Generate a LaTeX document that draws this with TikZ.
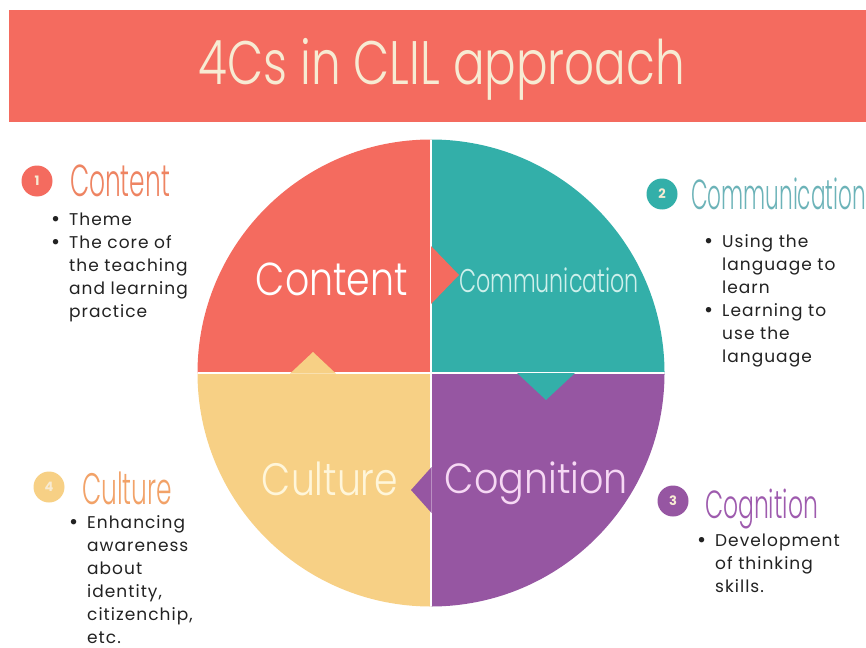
\documentclass[tikz,border=0pt]{standalone}
\usepackage{fontspec}
\usepackage{graphicx}
\setmainfont{Poppins}
\newfontfamily\thinfont{Poppins Light}
\newfontfamily\bodyfont{Poppins}[LetterSpace=6]
\definecolor{cRed}{HTML}{F46B5F}
\definecolor{cTeal}{HTML}{33AFA9}
\definecolor{cPurple}{HTML}{9656A2}
\definecolor{cYellow}{HTML}{F7D085}
\definecolor{cCream}{HTML}{F7EBD3}
\definecolor{hRed}{HTML}{EE8462}
\definecolor{hTeal}{HTML}{6CB3B8}
\definecolor{hPurple}{HTML}{9E5BAE}
\definecolor{hYellow}{HTML}{F2A268}
\definecolor{lTeal}{HTML}{CFF0EC}
\definecolor{lYellow}{HTML}{FFF6DA}
\definecolor{lPurple}{HTML}{F6D8F4}
\definecolor{bodytext}{HTML}{222222}
\tikzset{
  lbl/.style={inner sep=0pt, outer sep=0pt},
  numdot/.style={circle, minimum size=31pt, inner sep=0pt, text=cCream, font=\fontsize{13pt}{13pt}\selectfont\bfseries},
  bullets/.style={inner sep=0pt, anchor=base west, align=left, text=bodytext, font=\bodyfont\fontsize{17pt}{23pt}\selectfont},
}
\newcommand{\bul}{\llap{\raisebox{-1.5pt}{\fontsize{22pt}{22pt}\selectfont\textbullet}\hspace{9pt}}}
\begin{document}
\begin{tikzpicture}[x=1pt,y=-1pt]
\useasboundingbox (0,0) rectangle (866,647);
\fill[white] (0,0) rectangle (866,647);
% banner
\fill[cRed] (9,10) rectangle (866,122);
\node[lbl, text=cCream] (title) at (442,69) {\resizebox*{486pt}{62pt}{\thinfont 4Cs in CLIL approach}};
% circle
\coordinate (C) at (431,373);
\begin{scope}
  \clip (C) circle (233.5pt);
  \fill[cRed] (190,130) rectangle (431,373);
  \fill[cTeal] (431,130) rectangle (680,373);
  \fill[cPurple] (431,373) rectangle (680,620);
  \fill[cYellow] (190,373) rectangle (431,620);
  \draw[white, line width=1.2pt] (431,130) -- (431,620);
  \draw[white, line width=1.2pt] (190,373) -- (680,373);
  \fill[cRed] (431,246) -- (459,275) -- (431,304) -- cycle;
  \fill[cTeal] (517,373) -- (546,400) -- (575,373) -- cycle;
  \fill[cYellow] (290,373.6) -- (313,352) -- (336,373.6) -- cycle;
  \fill[cPurple] (431.6,467) -- (411,490) -- (431.6,513) -- cycle;
\end{scope}
% quadrant labels
\node[lbl, text=white] (qcontent) at (332,279.5) {\resizebox*{152pt}{33pt}{\thinfont Content}};
\node[lbl, text=lTeal] (qcomm) at (549,280.5) {\resizebox*{180pt}{25pt}{\thinfont Communication}};
\node[lbl, text=lYellow] (qculture) at (330,479) {\resizebox*{136pt}{34pt}{\thinfont Culture}};
\node[lbl, text=lPurple] (qcog) at (536.5,483.5) {\resizebox*{183pt}{43pt}{\thinfont Cognition}};
% number badges
\node[numdot, fill=cRed] (n1) at (37,181) {1};
\node[numdot, fill=cTeal] (n2) at (662,194) {2};
\node[numdot, fill=cPurple] (n3) at (673,501) {3};
\node[numdot, fill=cYellow] (n4) at (49,487) {4};
% headings
\node[lbl, anchor=west, text=hRed] (hcontent) at (70,181) {\resizebox*{100pt}{32pt}{\thinfont Content}};
\node[lbl, anchor=west, text=hTeal] (hcomm) at (691,194) {\resizebox*{175pt}{32pt}{\thinfont Communication}};
\node[lbl, anchor=west, text=hPurple] (hcog) at (705,509) {\resizebox*{113pt}{40pt}{\thinfont Cognition}};
\node[lbl, anchor=west, text=hYellow] (hculture) at (82,488.5) {\resizebox*{90pt}{33pt}{\thinfont Culture}};
% bullet lists (base anchor = baseline of last line)
\node[bullets] (lcontent) at (69,317) {\bul Theme\\\bul The core of\\the teaching\\and learning\\practice};
\node[bullets] (lcomm) at (722,362) {\bul Using the\\language to\\learn\\\bul Learning to\\use the\\language};
\node[bullets] (lcog) at (715,592) {\bul Development\\of thinking\\skills.};
\node[bullets] (lculture) at (87,643) {\bul Enhancing\\awareness\\about\\identity,\\citizenchip,\\etc.};
\end{tikzpicture}
\end{document}
